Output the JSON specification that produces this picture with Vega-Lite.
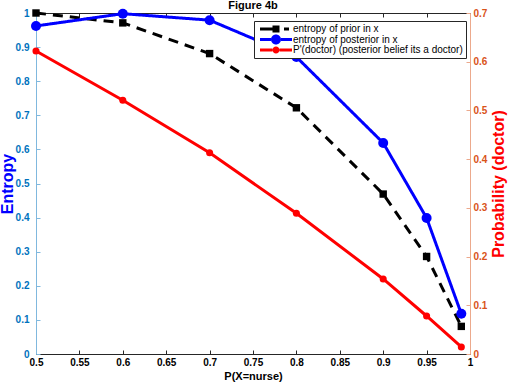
{
  "$schema": "https://vega.github.io/schema/vega-lite/v6.json",
  "autosize": "none",
  "width": 434,
  "height": 341,
  "padding": {"left": 36, "top": 13, "right": 42, "bottom": 33},
  "background": "white",
  "config": {
    "font": "Liberation Sans",
    "view": {"stroke": null},
    "axis": {"grid": false, "labelFont": "Liberation Sans", "labelFontWeight": "bold", "labelFontSize": 10, "titleFont": "Liberation Sans", "titleFontWeight": "bold", "tickSize": -4, "tickWidth": 1, "domainWidth": 1}
  },
  "title": {"text": "Figure 4b", "fontSize": 11, "fontWeight": "bold", "font": "Liberation Sans", "anchor": "middle", "offset": -4, "color": "black"},
  "data": {"values": [
    {"p": 0.5, "series": "entropy of prior in x", "value": 1.0},
    {"p": 0.6, "series": "entropy of prior in x", "value": 0.971},
    {"p": 0.7, "series": "entropy of prior in x", "value": 0.881},
    {"p": 0.8, "series": "entropy of prior in x", "value": 0.722},
    {"p": 0.9, "series": "entropy of prior in x", "value": 0.469},
    {"p": 0.95, "series": "entropy of prior in x", "value": 0.286},
    {"p": 0.99, "series": "entropy of prior in x", "value": 0.081},
    {"p": 0.5, "series": "entropy of posterior in x", "value": 0.962},
    {"p": 0.6, "series": "entropy of posterior in x", "value": 0.998},
    {"p": 0.7, "series": "entropy of posterior in x", "value": 0.979},
    {"p": 0.8, "series": "entropy of posterior in x", "value": 0.871},
    {"p": 0.9, "series": "entropy of posterior in x", "value": 0.619},
    {"p": 0.95, "series": "entropy of posterior in x", "value": 0.399},
    {"p": 0.99, "series": "entropy of posterior in x", "value": 0.118},
    {"p": 0.5, "series": "P'(doctor) (posterior belief its a doctor)", "value": 0.622},
    {"p": 0.6, "series": "P'(doctor) (posterior belief its a doctor)", "value": 0.521},
    {"p": 0.7, "series": "P'(doctor) (posterior belief its a doctor)", "value": 0.413},
    {"p": 0.8, "series": "P'(doctor) (posterior belief its a doctor)", "value": 0.289},
    {"p": 0.9, "series": "P'(doctor) (posterior belief its a doctor)", "value": 0.154},
    {"p": 0.95, "series": "P'(doctor) (posterior belief its a doctor)", "value": 0.078},
    {"p": 0.99, "series": "P'(doctor) (posterior belief its a doctor)", "value": 0.0144}
  ]},
  "resolve": {"scale": {"y": "independent"}, "axis": {"x": "independent"}},
  "layer": [
    {
      "transform": [{"filter": "datum.series != \"P'(doctor) (posterior belief its a doctor)\""}],
      "encoding": {
        "x": {"field": "p", "type": "quantitative", "scale": {"domain": [0.5, 1], "nice": false, "zero": false},
          "axis": {"orient": "bottom", "values": [0.5, 0.55, 0.6, 0.65, 0.7, 0.75, 0.8, 0.85, 0.9, 0.95, 1], "format": "~g", "title": "P(X=nurse)", "titleFontSize": 11, "titleColor": "black", "labelColor": "black", "domainColor": "#262626", "tickColor": "#262626", "labelPadding": 7, "titlePadding": 3, "labelFlush": false}},
        "y": {"field": "value", "type": "quantitative", "scale": {"domain": [0, 1], "nice": false},
          "axis": {"orient": "left", "values": [0, 0.1, 0.2, 0.3, 0.4, 0.5, 0.6, 0.7, 0.8, 0.9, 1], "format": "~g", "title": "Entropy", "titleFontSize": 16, "titleColor": "#0000FF", "labelColor": "#0072BD", "domainColor": "#80B8DE", "tickColor": "#80B8DE", "labelPadding": 11, "labelFlush": false,
            "titleX": -29, "titleY": 170.5, "titleAngle": 270, "titleAlign": "center", "titleBaseline": "middle"}},
        "color": {"field": "series", "type": "nominal",
          "scale": {"domain": ["entropy of prior in x", "entropy of posterior in x", "P'(doctor) (posterior belief its a doctor)"], "range": ["#000000", "#0000FF", "#FF0000"]},
          "legend": {"orient": "none", "legendX": 218, "legendY": 8, "title": null, "direction": "vertical",
            "labelFont": "Liberation Sans", "labelFontSize": 10, "labelColor": "black", "labelFontWeight": "normal", "labelLimit": 0,
            "symbolSize": 100, "symbolOffset": 14, "labelOffset": 12, "rowPadding": 0.5, "padding": 3,
            "strokeColor": "#262626", "fillColor": "white",
            "encode": {"symbols": {"update": {
              "shape": {"signal": "datum.value == 'entropy of prior in x' ? 'M-3.2,-0.3H-0.7V0.3H-3.2Z M-0.7,-0.7H0.7V0.7H-0.7Z M1.6,-0.3H2.6V0.3H1.6Z' : datum.value == 'entropy of posterior in x' ? 'M-3.2,-0.3H-1V0.3H-3.2Z M1,-0.3H3.2V0.3H1Z M-1,0A1,1 0 1,0 1,0A1,1 0 1,0 -1,0Z' : 'M-3.2,-0.3H-0.7V0.3H-3.2Z M0.7,-0.3H3.2V0.3H0.7Z M-0.7,0A0.7,0.7 0 1,0 0.7,0A0.7,0.7 0 1,0 -0.7,0Z'"},
              "fill": {"signal": "datum.value == 'entropy of prior in x' ? '#000000' : datum.value == 'entropy of posterior in x' ? '#0000FF' : '#FF0000'"},
              "fillOpacity": {"value": 1},
              "strokeWidth": {"value": 0},
              "opacity": {"value": 1}
            }}}}
        }
      },
      "layer": [
        {"mark": {"type": "line", "strokeWidth": 3},
         "encoding": {"strokeDash": {"field": "series", "type": "nominal", "scale": {"domain": ["entropy of prior in x", "entropy of posterior in x"], "range": [[10, 7], [1, 0]]}, "legend": null}}},
        {"mark": {"type": "point", "filled": true, "opacity": 1},
         "encoding": {
           "shape": {"field": "series", "type": "nominal", "scale": {"domain": ["entropy of prior in x", "entropy of posterior in x"], "range": ["square", "circle"]}, "legend": null},
           "size": {"field": "series", "type": "nominal", "scale": {"domain": ["entropy of prior in x", "entropy of posterior in x"], "range": [55, 100]}, "legend": null}
         }}
      ]
    },
    {
      "transform": [{"filter": "datum.series == \"P'(doctor) (posterior belief its a doctor)\""}],
      "encoding": {
        "x": {"field": "p", "type": "quantitative", "scale": {"domain": [0.5, 1], "nice": false, "zero": false},
          "axis": {"orient": "top", "values": [0.5, 0.55, 0.6, 0.65, 0.7, 0.75, 0.8, 0.85, 0.9, 0.95, 1], "labels": false, "title": null, "domainColor": "#262626", "tickColor": "#262626"}},
        "y": {"field": "value", "type": "quantitative", "scale": {"domain": [0, 0.7], "nice": false},
          "axis": {"orient": "right", "values": [0, 0.1, 0.2, 0.3, 0.4, 0.5, 0.6, 0.7], "format": "~g", "title": "Probability (doctor)", "titleFontSize": 16, "titleColor": "#FF0000", "labelColor": "#D95319", "domainColor": "#ECA98C", "tickColor": "#ECA98C", "labelPadding": 7, "labelFlush": false,
            "titleX": 28, "titleY": 170.5, "titleAngle": 270, "titleAlign": "center", "titleBaseline": "middle"}},
        "color": {"field": "series", "type": "nominal"}
      },
      "layer": [
        {"mark": {"type": "line", "strokeWidth": 3}},
        {"mark": {"type": "point", "filled": true, "opacity": 1, "size": 50, "shape": "circle"}}
      ]
    }
  ]
}
